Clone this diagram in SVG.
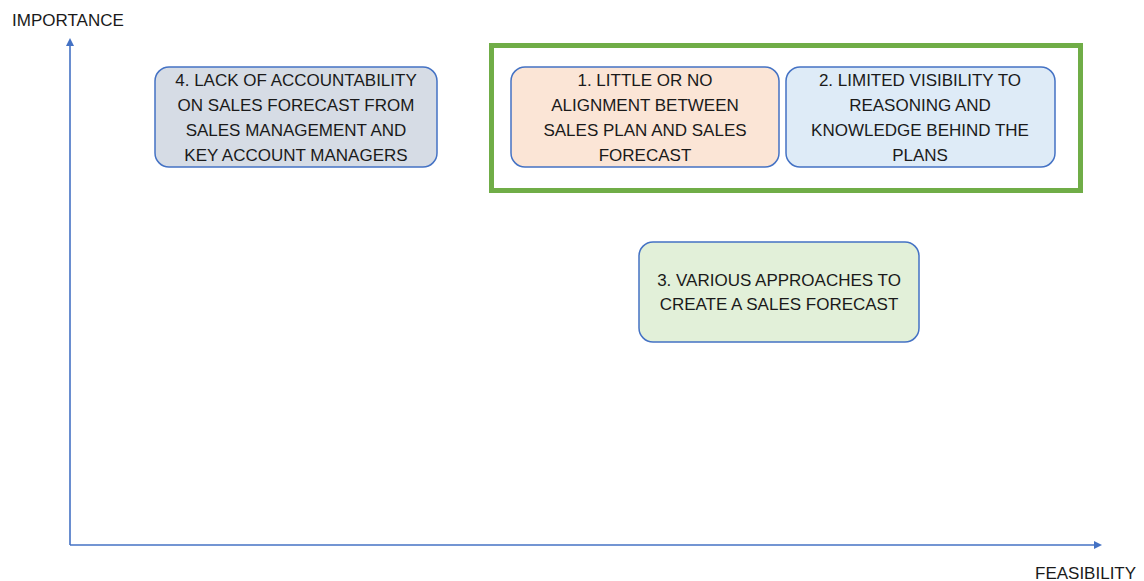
<svg xmlns="http://www.w3.org/2000/svg" width="1144" height="581" viewBox="0 0 1144 581">
<style>
.t{font-family:"Liberation Sans",Arial,sans-serif;font-size:17px;fill:#1a1a1a;text-anchor:middle}
.ax{font-family:"Liberation Sans",Arial,sans-serif;font-size:17px;fill:#1a1a1a}
.box{stroke:#4472c4;stroke-width:1.5}
</style>
<defs>
<marker id="ah" markerWidth="8" markerHeight="8" refX="6" refY="4" orient="auto" markerUnits="userSpaceOnUse">
<path d="M0,0 L8,4 L0,8 Z" fill="#4472c4"/>
</marker>
</defs>
<rect width="1144" height="581" fill="#fff"/>
<g id="connectors">
<line x1="70" y1="545" x2="70" y2="40" stroke="#4472c4" stroke-width="1.6" marker-end="url(#ah)"/>
<line x1="70" y1="545" x2="1100" y2="545" stroke="#4472c4" stroke-width="1.6" marker-end="url(#ah)"/>
</g>
<text class="ax" x="12" y="26">IMPORTANCE</text>
<text class="ax" x="1035" y="579">FEASIBILITY</text>
<g id="frame">
<rect x="491.5" y="45.5" width="589" height="145" fill="none" stroke="#70ad47" stroke-width="5"/>
</g>
<g id="node4">
<rect class="box" x="155" y="67" width="282" height="100" rx="14" fill="#d6dce5"/>
<text class="t" x="296" y="86">4. LACK OF ACCOUNTABILITY</text>
<text class="t" x="296" y="111">ON SALES FORECAST FROM</text>
<text class="t" x="296" y="136">SALES MANAGEMENT AND</text>
<text class="t" x="296" y="161">KEY ACCOUNT MANAGERS</text>
</g>
<g id="node1">
<rect class="box" x="511" y="67" width="268" height="100" rx="14" fill="#fbe5d6"/>
<text class="t" x="645" y="86">1. LITTLE OR NO</text>
<text class="t" x="645" y="111">ALIGNMENT BETWEEN</text>
<text class="t" x="645" y="136">SALES PLAN AND SALES</text>
<text class="t" x="645" y="161">FORECAST</text>
</g>
<g id="node2">
<rect class="box" x="786" y="67" width="269" height="100" rx="14" fill="#deebf7"/>
<text class="t" x="920" y="86">2. LIMITED VISIBILITY TO</text>
<text class="t" x="920" y="111">REASONING AND</text>
<text class="t" x="920" y="136">KNOWLEDGE BEHIND THE</text>
<text class="t" x="920" y="161">PLANS</text>
</g>
<g id="node3">
<rect class="box" x="639" y="242" width="280" height="100" rx="14" fill="#e2f0d9"/>
<text class="t" x="779" y="286">3. VARIOUS APPROACHES TO</text>
<text class="t" x="779" y="310">CREATE A SALES FORECAST</text>
</g>
</svg>
